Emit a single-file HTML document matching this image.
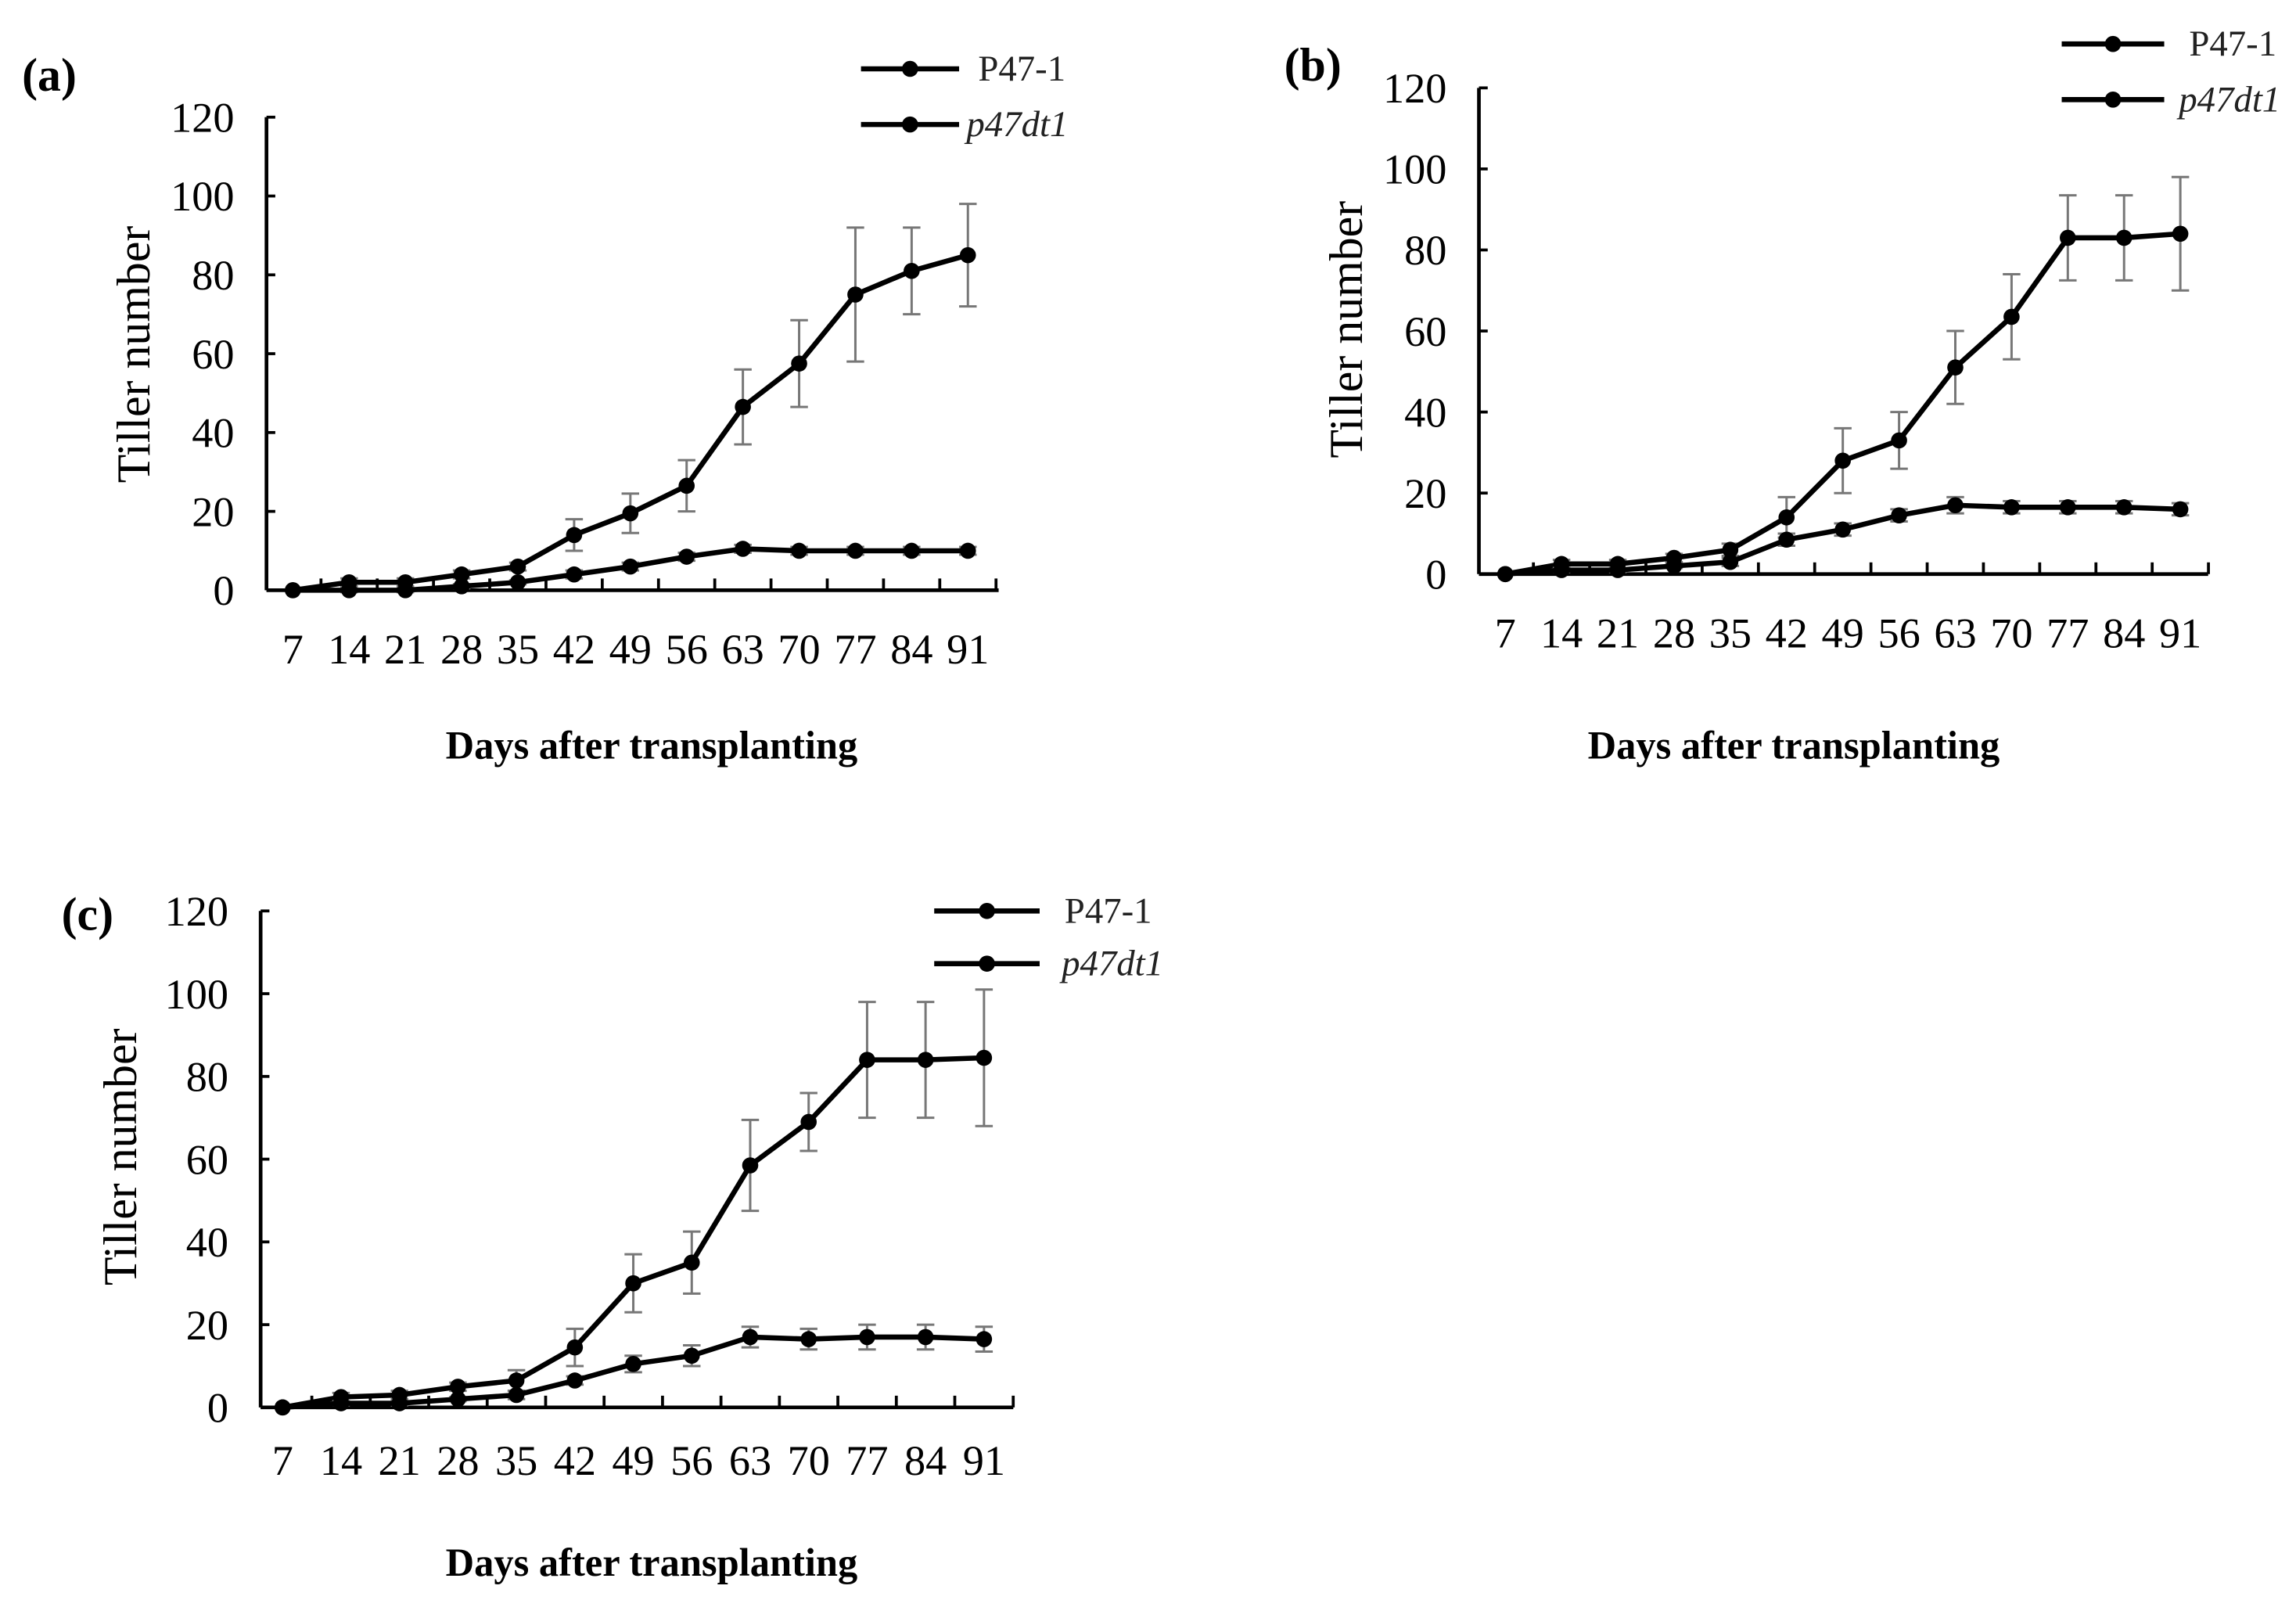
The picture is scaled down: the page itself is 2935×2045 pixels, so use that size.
<!DOCTYPE html>
<html><head><meta charset="utf-8"><style>
html,body{margin:0;padding:0;background:#fff;}
svg{display:block;font-family:"Liberation Serif",serif;}
</style></head><body>
<svg id="fig" width="2935" height="2045" viewBox="0 0 1568 1092.5" xmlns="http://www.w3.org/2000/svg"></svg>
<script>
const days = [7,14,21,28,35,42,49,56,63,70,77,84,91];
const yTicks = [0,20,40,60,80,100,120];
const aP47 = [0,2,2,4,6,14,19.5,26.5,46.5,57.5,75,81,85];
const aP47Err = [0,1,1,1,1,4,5,6.5,9.5,11,17,11,13];
const aDt1 = [0,0,0,1,2,4,6,8.5,10.5,10,10,10,10];
const aDt1Err = [0,0.5,0.5,0.5,0.5,1,1,1,1,1,1,1,1];
const bP47 = [0,2.5,2.5,4,6,14,28,33,51,63.5,83,83,84];
const bP47Err = [0,1,1,1,1.5,5,8,7,9,10.5,10.5,10.5,14];
const bDt1 = [0,1,1,2,3,8.5,11,14.5,17,16.5,16.5,16.5,16];
const bDt1Err = [0,0.5,0.5,0.5,1,1.5,1.5,1.5,2,1.5,1.5,1.5,1.5];
const cP47 = [0,2.5,3,5,6.5,14.5,30,35,58.5,69,84,84,84.5];
const cP47Err = [0,1,1,1,2.5,4.5,7,7.5,11,7,14,14,16.5];
const cDt1 = [0,1,1,2,3,6.5,10.5,12.5,17,16.5,17,17,16.5];
const cDt1Err = [0,0.5,0.5,0.5,1,1,2,2.5,2.5,2.5,3,3,3];

const NS="http://www.w3.org/2000/svg";
const svg=document.getElementById('fig');
function el(tag,attrs,parent,text){const e=document.createElementNS(NS,tag);for(const k in attrs)e.setAttribute(k,attrs[k]);if(text!==undefined)e.textContent=text;(parent||svg).appendChild(e);return e;}

const panels=[
 {id:'a',ax:182,y0:403,y120:80,x7:200,x91:661,xEnd:682,tickY:453,title:[445,518],lbl:[15,62],ylab:[102,242],
  leg:{x1:588,x2:655,ys:[47,85],tx:[668,660]},p47:aP47,p47e:aP47Err,dt:aDt1,dte:aDt1Err},
 {id:'b',ax:1010,y0:392,y120:60,x7:1028,x91:1489,xEnd:1508,tickY:442,title:[1225,518],lbl:[877,55],ylab:[930,225],
  leg:{x1:1408,x2:1478,ys:[30,68],tx:[1495,1488]},p47:bP47,p47e:bP47Err,dt:bDt1,dte:bDt1Err},
 {id:'c',ax:178,y0:961,y120:622,x7:193,x91:672,xEnd:692,tickY:1007,title:[445,1076],lbl:[42,635],ylab:[93,790],
  leg:{x1:638,x2:710,ys:[622,658],tx:[727,725]},p47:cP47,p47e:cP47Err,dt:cDt1,dte:cDt1Err}
];

panels.forEach(p=>{
  const g=el('g',{});
  
  
  const step=(p.x91-p.x7)/(days.length-1);
  const xs=i=>p.x7+i*step;
  const ys=v=>p.y0-(v/120)*(p.y0-p.y120);
  const pl=el('text',{x:p.lbl[0],y:p.lbl[1],'font-size':32,'font-weight':'bold'},g,'('+p.id+')');
  
  
  const ya=el('line',{x1:p.ax,y1:p.y120,x2:p.ax,y2:p.y0,stroke:'#000','stroke-width':2.5},g);
  
  
  const xa=el('line',{x1:p.ax,y1:p.y0,x2:p.xEnd,y2:p.y0,stroke:'#000','stroke-width':2.5},g);
  
  
  yTicks.forEach(t=>{
    el('line',{x1:p.ax,y1:ys(t),x2:p.ax+6,y2:ys(t),stroke:'#000','stroke-width':2},g);
    const tl=el('text',{x:p.ax-22,y:ys(t)+10,'font-size':29,'text-anchor':'end'},g,String(t));
    
    
  });
  for(let i=0;i<=days.length;i++){
    const x=p.x7+(i-0.5)*step;
    if(x>p.ax+2) el('line',{x1:x,y1:p.y0,x2:x,y2:p.y0-8,stroke:'#000','stroke-width':2},g);
  }
  days.forEach((d,i)=>{
    const tl=el('text',{x:xs(i),y:p.tickY,'font-size':29,'text-anchor':'middle'},g,String(d));
    
    
  });
  const yl=el('text',{x:p.ylab[0],y:p.ylab[1],'font-size':32,'text-anchor':'middle',transform:'rotate(-90 '+p.ylab[0]+' '+p.ylab[1]+')'},g,'Tiller number');
  
  
  const xl=el('text',{x:p.title[0],y:p.title[1],'font-size':27,'font-weight':'bold','text-anchor':'middle'},g,'Days after transplanting');
  
  
  [[p.p47,p.p47e,'p47-1'],[p.dt,p.dte,'p47dt1']].forEach(([vals,errs,nm])=>{
    const sg=el('g',{},g);
    
    
    vals.forEach((v,i)=>{
      if(errs[i]>0){
        const e=errs[i],x=xs(i);
        el('line',{x1:x,y1:ys(v+e),x2:x,y2:ys(v-e),stroke:'#777','stroke-width':1.6},sg);
        el('line',{x1:x-6,y1:ys(v+e),x2:x+6,y2:ys(v+e),stroke:'#777','stroke-width':1.6},sg);
        el('line',{x1:x-6,y1:ys(v-e),x2:x+6,y2:ys(v-e),stroke:'#777','stroke-width':1.6},sg);
      }
    });
    const pts=vals.map((v,i)=>xs(i)+','+ys(v)).join(' ');
    const pl2=el('polyline',{points:pts,fill:'none',stroke:'#000','stroke-width':3.5,'stroke-linejoin':'round'},sg);
    
    
    vals.forEach((v,i)=>{
      const m=el('circle',{cx:xs(i),cy:ys(v),r:5.5,fill:'#000'},sg);
      
      
    });
  });
  const lg=el('g',{},g);
  
  
  ['P47-1','p47dt1'].forEach((name,k)=>{
    const y=p.leg.ys[k];
    el('line',{x1:p.leg.x1,y1:y,x2:p.leg.x2,y2:y,stroke:'#000','stroke-width':3.5},lg);
    el('circle',{cx:(p.leg.x1+p.leg.x2)/2,cy:y,r:5.5,fill:'#000'},lg);
    const t=el('text',{x:p.leg.tx[k],y:y+8,'font-size':25,fill:'#222','font-style':k?'italic':'normal'},lg,name);
    
    
  });
});
</script>
</body></html>
